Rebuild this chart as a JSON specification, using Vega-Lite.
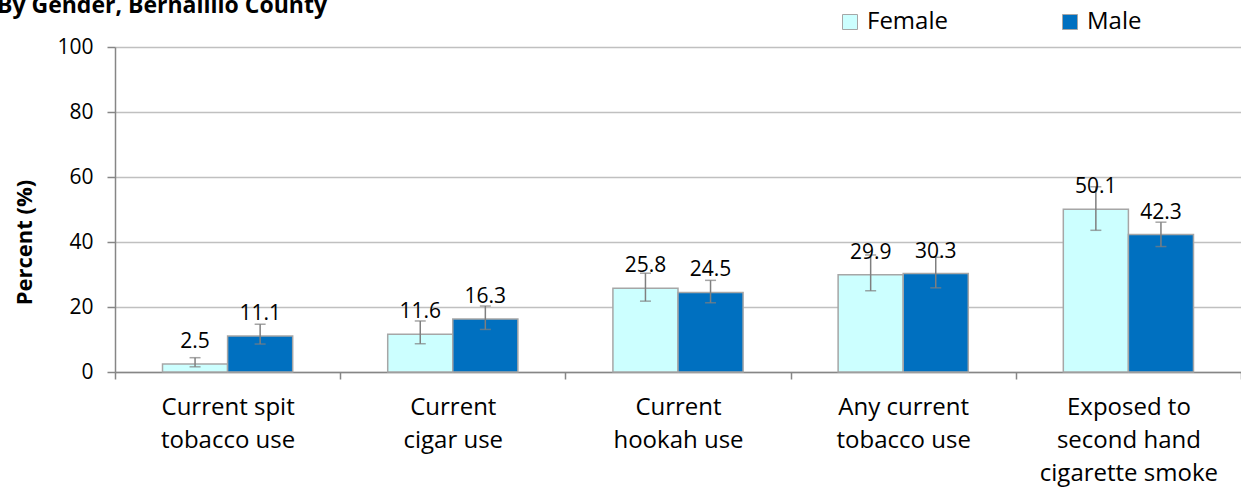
{
  "$schema": "https://vega.github.io/schema/vega-lite/v6.json",
  "width": 1126,
  "height": 325,
  "autosize": {"type": "none"},
  "padding": {"left": 115, "top": 47, "right": 0, "bottom": 119},
  "background": "white",
  "title": {
    "text": "By Gender, Bernalillo County",
    "anchor": "start",
    "frame": "group",
    "dx": -118,
    "dy": 48,
    "font": "Open Sans",
    "fontSize": 23,
    "fontWeight": "bold",
    "color": "#000000",
    "baseline": "alphabetic",
    "offset": 22
  },
  "config": {
    "view": {"stroke": null},
    "font": "Open Sans"
  },
  "data": {
    "values": [
      {"measure": "Current spit|tobacco use", "gender": "Female", "value": 2.5, "lo": 1.6, "hi": 4.4},
      {"measure": "Current spit|tobacco use", "gender": "Male", "value": 11.1, "lo": 8.6, "hi": 14.7},
      {"measure": "Current|cigar use", "gender": "Female", "value": 11.6, "lo": 8.7, "hi": 15.7},
      {"measure": "Current|cigar use", "gender": "Male", "value": 16.3, "lo": 13.1, "hi": 20.3},
      {"measure": "Current|hookah use", "gender": "Female", "value": 25.8, "lo": 21.8, "hi": 30.4},
      {"measure": "Current|hookah use", "gender": "Male", "value": 24.5, "lo": 21.3, "hi": 28.2},
      {"measure": "Any current|tobacco use", "gender": "Female", "value": 29.9, "lo": 25.0, "hi": 36.0},
      {"measure": "Any current|tobacco use", "gender": "Male", "value": 30.3, "lo": 25.9, "hi": 35.3},
      {"measure": "Exposed to|second hand|cigarette smoke", "gender": "Female", "value": 50.1, "lo": 43.6, "hi": 57.0},
      {"measure": "Exposed to|second hand|cigarette smoke", "gender": "Male", "value": 42.3, "lo": 38.6, "hi": 46.1}
    ]
  },
  "encoding": {
    "x": {
      "field": "measure",
      "type": "nominal",
      "sort": null,
      "title": null,
      "scale": {"paddingInner": 0, "paddingOuter": 0},
      "axis": {
        "labelAngle": 0,
        "labelExpr": "split(datum.label, '|')",
        "labelFontSize": 24,
        "labelLineHeight": 33,
        "labelColor": "#000000",
        "labelBaseline": "top",
        "labelPadding": 16,
        "tickBand": "extent",
        "tickSize": 7,
        "tickColor": "#868686",
        "tickWidth": 1.5,
        "domainColor": "#868686",
        "domainWidth": 1.5,
        "grid": false
      }
    },
    "xOffset": {
      "field": "gender",
      "type": "nominal",
      "sort": ["Female", "Male"],
      "scale": {"paddingInner": 0, "paddingOuter": 0.73}
    }
  },
  "layer": [
    {
      "mark": {"type": "bar", "stroke": "#a6a6a6", "strokeWidth": 1.5},
      "encoding": {
        "y": {
          "field": "value",
          "type": "quantitative",
          "scale": {"domain": [0, 100]},
          "title": "Percent (%)",
          "axis": {
            "values": [0, 20, 40, 60, 80, 100],
            "labelFontSize": 21,
            "labelColor": "#000000",
            "labelPadding": 14,
            "tickSize": 8,
            "tickColor": "#868686",
            "tickWidth": 1.5,
            "domainColor": "#868686",
            "domainWidth": 1.5,
            "gridColor": "#c0c0c0",
            "gridWidth": 1.5,
            "titleFontSize": 22,
            "titleFontWeight": "bold",
            "titleColor": "#000000",
            "titleAngle": -90,
            "titleAlign": "center",
            "titleBaseline": "middle",
            "titleX": -91,
            "titleY": 195
          }
        },
        "fill": {
          "field": "gender",
          "type": "nominal",
          "sort": ["Female", "Male"],
          "scale": {"domain": ["Female", "Male"], "range": ["#ccffff", "#0070c0"]},
          "legend": {
            "title": null,
            "orient": "none",
            "legendX": 723,
            "legendY": -37,
            "direction": "horizontal",
            "symbolType": "square",
            "symbolSize": 225,
            "symbolStrokeColor": "#a6a6a6",
            "symbolStrokeWidth": 1,
            "labelFontSize": 24,
            "labelColor": "#000000",
            "labelOffset": 5,
            "columnPadding": 110
          }
        }
      }
    },
    {
      "mark": {"type": "rule", "color": "#7f7f7f", "strokeWidth": 1.5},
      "encoding": {
        "y": {"field": "lo", "type": "quantitative"},
        "y2": {"field": "hi"}
      }
    },
    {
      "mark": {"type": "tick", "color": "#7f7f7f", "thickness": 1.5, "size": 11, "orient": "horizontal"},
      "encoding": {"y": {"field": "lo", "type": "quantitative"}}
    },
    {
      "mark": {"type": "tick", "color": "#7f7f7f", "thickness": 1.5, "size": 11, "orient": "horizontal"},
      "encoding": {"y": {"field": "hi", "type": "quantitative"}}
    },
    {
      "mark": {"type": "text", "dy": -16, "baseline": "alphabetic", "fontSize": 21, "color": "#000000"},
      "encoding": {
        "y": {"field": "value", "type": "quantitative"},
        "text": {"field": "value", "type": "quantitative", "format": ".1f"}
      }
    }
  ]
}
